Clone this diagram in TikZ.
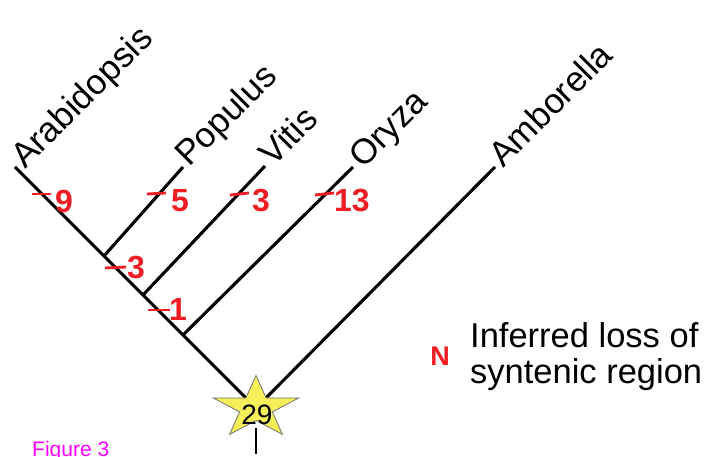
\documentclass[tikz,border=0pt]{standalone}
\usepackage{fontspec}
\setmainfont{Liberation Sans}
\usetikzlibrary{shapes.geometric}
\definecolor{lossred}{RGB}{240,30,36}
\definecolor{staryellow}{RGB}{245,240,90}
\definecolor{figmagenta}{RGB}{255,0,255}
\tikzset{
  branch/.style={line width=3.1pt, black},
  species/.style={anchor=base west, rotate=45, inner sep=0pt, font=\fontsize{35}{40}\selectfont},
  losstick/.style={line width=2.8pt, lossred},
  lossnum/.style={anchor=base west, inner sep=0pt, text=lossred, font=\fontsize{32}{36}\selectfont\bfseries},
  legendtext/.style={anchor=base west, inner sep=0pt, font=\fontsize{34.5}{40}\selectfont},
}
\begin{document}
\begin{tikzpicture}[x=1pt,y=-1pt]
\useasboundingbox (0,0) rectangle (710,457);
% tips and internal nodes
\coordinate (tArab) at (15,167);
\coordinate (tPop) at (183,167);
\coordinate (tVit) at (265,166);
\coordinate (tOry) at (353,167);
\coordinate (tAmb) at (495,167);
\coordinate (n3) at (104,256);
\coordinate (n2) at (143,295);
\coordinate (n1) at (183,335);
\coordinate (rootc) at (256,408);
\coordinate (stemend) at (256,454);
% branches
\draw[branch] (tArab) -- (n3) -- (n2) -- (n1) -- (rootc);
\draw[branch] (tPop) -- (n3);
\draw[branch] (tVit) -- (n2);
\draw[branch] (tOry) -- (n1);
\draw[branch] (tAmb) -- (rootc);
% species labels
\node[species] (lArab) at ([shift={(10,3)}]tArab) {Arabidopsis};
\node[species] (lPop) at ([shift={(6,1)}]tPop) {Populus};
\node[species] (lVit) at ([shift={(8,2)}]tVit) {Vitis};
\node[species] (lOry) at ([shift={(10,3)}]tOry) {Oryza};
\node[species] (lAmb) at ([shift={(8,2)}]tAmb) {Amborella};
% root star
\node[star, star points=5, star point ratio=2.618, minimum size=65.2pt, inner sep=0pt,
      xscale=1.38, transform shape, fill=staryellow, draw=black!55, line width=0.8pt] (star) at (rootc) {};
\node[inner sep=0pt, font=\fontsize{28}{30}\selectfont] (n29) at (257,415) {29};
\coordinate (stemtop) at (256,428);
\draw[line width=2.8pt] (stemtop) -- (stemend);
% loss ticks and numbers
\coordinate (k9a) at (32,194); \coordinate (k9b) at (51,194);
\draw[losstick] (k9a) -- (k9b);
\node[lossnum] (l9) at (55,213) {9};
\coordinate (k5a) at (147,194); \coordinate (k5b) at (166,193);
\draw[losstick] (k5a) -- (k5b);
\node[lossnum] (l5) at (171,212) {5};
\coordinate (k3a) at (230,195); \coordinate (k3b) at (249,193);
\draw[losstick] (k3a) -- (k3b);
\node[lossnum] (l3a) at (252,212) {3};
\coordinate (k13a) at (315,195); \coordinate (k13b) at (334,193);
\draw[losstick] (k13a) -- (k13b);
\node[lossnum] (l13) at (334,212) {13};
\coordinate (k3ca) at (105,268); \coordinate (k3cb) at (126,267);
\draw[losstick] (k3ca) -- (k3cb);
\node[lossnum] (l3b) at (127,279) {3};
\coordinate (k1a) at (148,310); \coordinate (k1b) at (170,310);
\draw[losstick] (k1a) -- (k1b);
\node[lossnum] (l1) at (169,320) {1};
% legend
\node[anchor=base, inner sep=0pt, text=lossred, font=\fontsize{27}{30}\selectfont\bfseries] (legN) at (440,365) {N};
\node[legendtext] (leg1) at (470,348) {Inferred loss of};
\node[legendtext] (leg2) at (470,383) {syntenic region};
% caption
\node[anchor=base west, inner sep=0pt, text=figmagenta, font=\fontsize{21}{24}\selectfont] (fig) at (32,456) {Figure 3};
\end{tikzpicture}
\end{document}
